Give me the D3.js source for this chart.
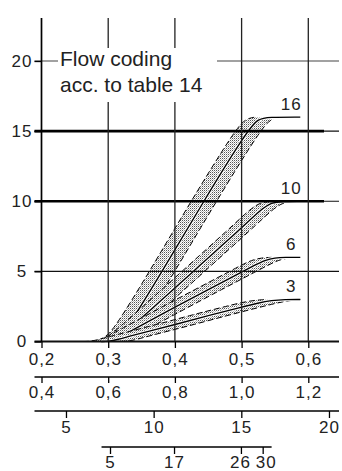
<!DOCTYPE html>
<html>
<head>
<meta charset="utf-8">
<script src="https://cdn.jsdelivr.net/npm/d3@7"></script>
<style>
  html, body { margin: 0; padding: 0; background: #fff; }
  svg { display: block; font-family: "Liberation Sans", Arial, sans-serif; }
</style>
</head>
<body>
<svg id="chart" width="342" height="471"></svg>
<script>
// ── Data ──────────────────────────────────
const xTicks   = [0.2, 0.3, 0.4, 0.5, 0.6];
const yTicks   = [0, 5, 10, 15, 20];
const ax2Ticks = [0.4, 0.6, 0.8, 1.0, 1.2];     // second scale, linear
const ax3Ticks = [5, 10, 15, 20];
const ax3Domain = [5, 20];
const ax3At     = [0.2367, 0.631];              // main-x positions of 5 and 20
const ax4Ticks = [5, 17, 26, 30];               // non linear scale
const ax4At    = [0.3027, 0.3987, 0.499, 0.5316];
const ax4Span  = [0.29, 0.545];

const codes = [16, 10, 6, 3];
const tol   = [0.019, 0.017, 0.02, 0.028];      // band half-width (x units)
const flow16 = [[0.29,0],[0.30,0],[0.315,0.3],[0.33,1.05],[0.381,5],[0.443,10],[0.508,15],[0.525,15.9],[0.54,16],[0.588,16]];
const flow10 = [[0.29,0],[0.30,0],[0.315,0.3],[0.33,0.85],[0.36,2.1],[0.4275,5],[0.50,8.1],[0.53,9.45],[0.545,9.9],[0.56,10],[0.588,10]];
const flow6  = [[0.29,0],[0.30,0],[0.315,0.25],[0.33,0.65],[0.40,2.45],[0.45,3.7],[0.50,4.95],[0.52,5.45],[0.535,5.8],[0.55,5.97],[0.565,6],[0.588,6]];
const flow3  = [[0.29,0],[0.30,0],[0.315,0.15],[0.33,0.35],[0.36,0.72],[0.40,1.2],[0.45,1.85],[0.50,2.45],[0.525,2.75],[0.545,2.93],[0.565,3],[0.588,3]];
const flows = [flow16, flow10, flow6, flow3];
const titleLines = ['Flow coding', 'acc. to table 14'];

// ── Layout ────────────────────────────────
const svg = d3.select('#chart');
const x = d3.scaleLinear().domain([0.2, 0.6]).range([41.5, 308.3]);
const y = d3.scaleLinear().domain([0, 20]).range([341.5, 61]);
const gridTop = 18, gridLeft = 34.5, gridRight = 339, thickEnd = 324;
const comma = d3.formatLocale({decimal: ',', thousands: '.', grouping: [3], currency: ['', '']}).format('.1f');

// stipple fill
const pat = svg.append('defs').append('pattern')
  .attr('id', 'dots').attr('width', 2).attr('height', 2)
  .attr('patternUnits', 'userSpaceOnUse');
pat.append('rect').attr('width', 2).attr('height', 2).attr('fill', '#fff');
pat.append('rect').attr('width', 1).attr('height', 1).attr('fill', '#555');
pat.append('rect').attr('x', 1).attr('y', 1).attr('width', 1).attr('height', 1).attr('fill', '#b8b8b8');

// ── Bands ─────────────────────────────────
const gBands = svg.append('g');
flows.forEach((pts, i) => {
  const L = codes[i], d = tol[i];
  const xEnd = pts[pts.length - 1][0];
  const knee = pts.findIndex(p => p[1] >= L);
  const band = pts.slice(0, knee + 1);
  const lo = p => x(p[0] - d);
  const hi = p => x(Math.min(p[0] + d, xEnd));

  gBands.append('path')
    .attr('d', d3.area().y(p => y(p[1])).x0(lo).x1(hi).curve(d3.curveBasis)(band))
    .attr('fill', 'url(#dots)');
  [lo, hi].forEach(fx => {
    gBands.append('path')
      .attr('d', d3.line().x(fx).y(p => y(p[1])).curve(d3.curveBasis)(band))
      .attr('fill', 'none').attr('stroke', '#000')
      .attr('stroke-width', 1).attr('stroke-dasharray', '6,3');
  });
  const mid = d3.line().x(p => x(p[0])).y(p => y(p[1])).curve(d3.curveBasis)(pts);
  gBands.append('path').attr('d', mid)
    .attr('fill', 'none').attr('stroke', '#fff').attr('stroke-width', 3.2);
  gBands.append('path').attr('d', mid)
    .attr('fill', 'none').attr('stroke', '#000').attr('stroke-width', 1.4);

  gBands.append('text')
    .attr('x', x(xEnd) - 9).attr('y', y(L) - 7)
    .attr('text-anchor', 'middle').attr('font-size', 17).attr('letter-spacing', 1)
    .attr('fill', '#222')
    .text(L);
});

// ── Grid ──────────────────────────────────
const gGrid = svg.append('g');
gGrid.selectAll('line.h').data(yTicks).join('line')
  .attr('x1', gridLeft).attr('x2', gridRight)
  .attr('y1', d => y(d)).attr('y2', d => y(d))
  .attr('stroke', d => d === 20 ? '#444' : '#111')
  .attr('stroke-width', d => d === 0 ? 1.8 : 1.2);
gGrid.selectAll('line.t').data([10, 15]).join('line')
  .attr('x1', gridLeft).attr('x2', thickEnd)
  .attr('y1', d => y(d)).attr('y2', d => y(d))
  .attr('stroke', '#000').attr('stroke-width', 2.6);
gGrid.selectAll('line.v').data(xTicks).join('line')
  .attr('x1', d => x(d)).attr('x2', d => x(d))
  .attr('y1', gridTop).attr('y2', y(0))
  .attr('stroke', d => d === 0.2 ? '#000' : '#222')
  .attr('stroke-width', d => d === 0.2 ? 1.7 : 1.3);

// title box
svg.append('rect').attr('x', 58).attr('y', 48).attr('width', 159).attr('height', 54).attr('fill', '#fff');
svg.append('text').attr('x', 60).attr('y', 66).attr('font-size', 21).attr('fill', '#222')
  .selectAll('tspan').data(titleLines).join('tspan')
  .attr('x', 60).attr('dy', (d, i) => i ? 26 : 0).text(d => d);

// ── Axes ──────────────────────────────────
function styleAxis(g) {
  g.select('.domain').remove();
  g.selectAll('.tick line').attr('stroke', '#000').attr('stroke-width', 1.3);
  g.selectAll('.tick text').attr('fill', '#222').attr('font-size', 17)
    .attr('letter-spacing', 1).attr('font-family', '"Liberation Sans", Arial, sans-serif');
}

svg.append('g').attr('transform', `translate(0,${y(0)})`)
  .call(d3.axisBottom(x).tickValues(xTicks).tickSize(6.5).tickPadding(5).tickFormat(comma))
  .call(styleAxis);

svg.append('g').attr('transform', `translate(${x(0.2)},0)`)
  .call(d3.axisLeft(y).tickValues(yTicks).tickSize(7).tickFormat(d3.format('d')))
  .call(styleAxis)
  .call(g => g.selectAll('.tick text').attr('text-anchor', 'middle').attr('x', -19.5));

const x2 = d3.scaleLinear().domain([ax2Ticks[0], ax2Ticks[ax2Ticks.length - 1]]).range([x(0.2), x(0.6)]);
const x3 = d3.scaleLinear().domain(ax3Domain).range(ax3At.map(x));
const x4 = d3.scaleLinear().domain(ax4Ticks).range(ax4At.map(x));

const extra = [
  {scale: x2, ticks: ax2Ticks, fmt: comma, yy: 377, size: 6, pad: 3, span: [gridLeft, gridRight]},
  {scale: x3, ticks: ax3Ticks, fmt: d3.format('d'), yy: 411, size: 7, pad: 3, span: [gridLeft, gridRight]},
  {scale: x4, ticks: ax4Ticks, fmt: d3.format('d'), yy: 447, size: 7, pad: 2, span: ax4Span.map(x)}
];
extra.forEach(a => {
  svg.append('line').attr('x1', a.span[0]).attr('x2', a.span[1])
    .attr('y1', a.yy).attr('y2', a.yy).attr('stroke', '#000').attr('stroke-width', 1.3);
  svg.append('g').attr('transform', `translate(0,${a.yy})`)
    .call(d3.axisBottom(a.scale).tickValues(a.ticks).tickSize(a.size).tickPadding(a.pad).tickFormat(a.fmt))
    .call(styleAxis);
});

// last two labels of the bottom scale sit close together: nudge them apart
svg.selectAll('g .tick text').filter(d => d === 30).attr('dx', 3);
svg.selectAll('g .tick text').filter(d => d === 26).attr('dx', -1);
</script>
</body>
</html>
